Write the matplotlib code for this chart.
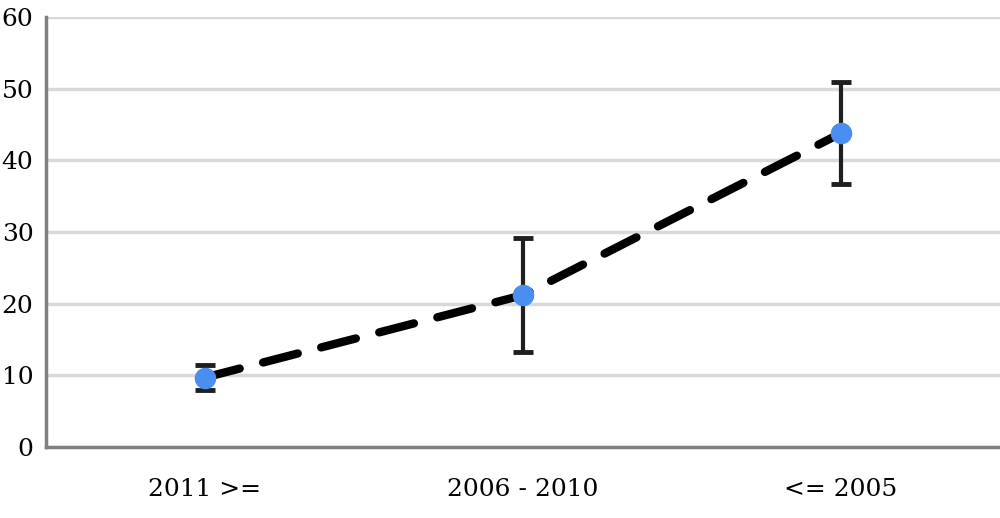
import matplotlib
matplotlib.use("Agg")
import matplotlib.pyplot as plt

categories = ["2011 >=", "2006 - 2010", "<= 2005"]
values = [9.7, 21.2, 43.8]
err_low = [8.0, 13.3, 36.7]
err_high = [11.4, 29.2, 50.9]
yticks = [0, 10, 20, 30, 40, 50, 60]

plt.rcParams['font.family'] = ['DejaVu Serif', 'Liberation Serif']

fig = plt.figure(figsize=(10, 5.18), dpi=100)
ax = fig.add_axes([0.046, 0.137, 0.954, 0.830])

x = list(range(len(categories)))
lower = [v - l for v, l in zip(values, err_low)]
upper = [h - v for v, h in zip(values, err_high)]

ax.errorbar(x, values, yerr=[lower, upper], fmt='none', ecolor='#1f1f1f',
            elinewidth=3, capsize=7.5, capthick=3.5, zorder=3)
ax.plot(x, values, color='black', linewidth=6, linestyle=(0, (4.3, 2.9)),
        dash_capstyle='round', zorder=2)
ax.plot(x, values, linestyle='none', marker='o', markersize=14.5,
        color='#4a8ff0', zorder=4)

ax.set_xlim(-0.5, 2.5)
ax.set_ylim(0, 60)
ax.set_yticks(yticks)
ax.set_yticklabels([str(t) for t in yticks], fontsize=18)
ax.set_xticks(x)
ax.set_xticklabels(categories, fontsize=18)
ax.tick_params(length=0, pad=22, axis='x')
ax.tick_params(length=0, pad=9, axis='y')

ax.yaxis.grid(True, color='#d9d9d9', linewidth=2.5)
ax.set_axisbelow(True)
for s in ['top', 'right']:
    ax.spines[s].set_visible(False)
for s in ['left', 'bottom']:
    ax.spines[s].set_color('#808080')
    ax.spines[s].set_linewidth(2.5)

fig.savefig('out.png', dpi=100)
